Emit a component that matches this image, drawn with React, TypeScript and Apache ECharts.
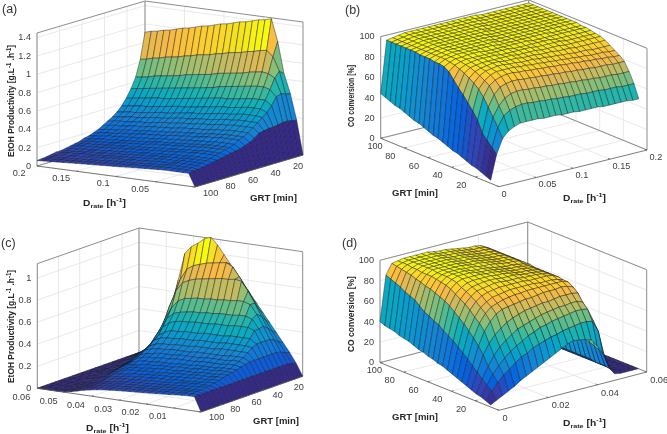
import React, { useEffect, useRef } from "react";
import * as echarts from "echarts";

// ---------- data ----------
const dFractions = [0,.04,.08,.12,.16,.2,.24,.28,.32,.36,.4,.44,.48,.52,.56,.6,.64,.68,.72,.76,.8,.84,.88,.92,.96,1];
const grtRowsAC = [4,8.2,12.3,16.5,20.7,24.9,29,33.2,37.4,41.6,45.7,49.9,54.1,58.3,62.4,66.6,70.8,75,79.1,83.3,87.5,91.7,95.8,100];
const grtRowsBD = [7,11,15.1,19.1,23.2,27.2,31.3,35.3,39.3,43.4,47.4,51.5,55.5,59.5,63.6,67.6,71.7,75.7,79.7,83.8,87.8,91.9,95.9,100];

// productivity x 100, rows = GRT, columns = Drate
const surfaceA = [
[0,37,65,86,120,144,142,141,139,137,136,134,132,131,129,127,126,124,122,121,119,117,116,114,113,111],
[0,38,66,90,105,111,110,108,107,105,104,103,101,100,98,97,96,94,93,91,90,89,87,86,84,83],
[0,39,68,84,88,89,88,87,85,84,83,82,81,79,78,77,76,75,73,72,71,70,69,67,66,65],
[0,39,66,73,75,75,74,73,72,71,70,69,67,66,65,64,63,62,61,60,59,58,57,56,55,54],
[0,38,58,63,63,63,62,61,60,59,59,58,57,56,55,54,53,52,51,50,50,49,48,47,46,45],
[0,37,52,55,55,55,54,53,52,52,51,50,49,48,47,46,46,45,44,43,42,41,41,40,39,38],
[0,37,48,49,49,49,48,47,47,46,45,44,43,43,42,41,40,39,39,38,37,36,35,35,34,33],
[0,36,44,44,44,44,43,43,42,41,40,40,39,38,38,37,36,35,35,34,33,32,32,31,30,29],
[0,35,40,40,40,40,39,39,38,37,37,36,35,35,34,33,33,32,31,30,30,29,28,28,27,26],
[0,31,36,36,36,36,35,35,34,33,33,32,32,31,30,30,29,29,28,27,27,26,25,25,24,23],
[0,28,33,33,33,33,32,32,31,30,30,29,29,28,27,27,26,26,25,24,24,23,22,22,21,20],
[0,26,31,31,31,31,30,30,29,28,28,27,27,26,25,25,24,24,23,22,22,21,20,20,19,18],
[0,24,28,28,28,28,27,27,26,26,25,25,24,24,23,22,22,21,21,20,20,19,19,18,17,16],
[0,23,26,26,26,26,25,25,24,24,23,23,22,22,21,20,20,19,19,18,18,17,17,16,15,15],
[0,22,25,25,25,25,24,24,23,23,22,22,21,21,20,19,19,18,18,17,16,16,15,15,14,13],
[0,21,23,23,23,23,22,22,21,21,20,20,19,19,18,18,17,17,16,16,15,15,14,14,13,12],
[0,20,22,22,22,22,21,21,20,20,19,19,18,18,17,17,16,16,15,15,14,14,13,13,12,11],
[0,19,20,20,20,20,19,19,19,18,18,17,17,16,16,15,15,14,14,13,13,12,12,11,11,10],
[0,18,19,19,19,19,18,18,18,17,17,16,16,15,15,14,14,13,13,12,12,11,11,10,10,9],
[0,17,18,18,18,18,17,17,17,16,16,15,15,14,14,13,13,12,12,11,11,11,10,10,9,9],
[0,16,17,17,17,17,16,16,16,15,15,14,14,13,13,13,12,12,11,11,10,10,9,9,8,8],
[0,15,16,16,16,16,15.5,15,14.5,14,13.5,13,12.7,12.3,12,11.5,11,10.5,10,9.5,9,8.7,8.3,8,7.5,7],
[0,15,15,15,15,15,14.6,14.2,13.8,13.4,13,12.5,12,11.6,11.2,10.8,10.4,10,9.5,9,8.6,8.2,7.8,7.4,7,6.5],
[0,14,14,14,14,14,13.6,13.2,12.8,12.4,12,11.6,11.2,10.8,10.4,10,9.6,9.2,8.8,8.4,8,7.6,7.2,6.8,6.4,6],
];

// CO conversion %, rows = GRT, columns = Drate
const surfaceB = [
[3,27,41,47,50,52,52,52,52,51,51,51,50,50,50,49,49,49,49,48,48,48,48,48,47,47],
[5,32,50,60,64,66,67,67,66,66,65,65,64,64,63,63,63,62,62,62,61,61,61,60,60,60],
[7,37,58,68,74,77,78,78,77,77,76,76,75,75,74,74,73,73,72,72,71,71,71,70,70,70],
[9,42,66,77,83,85,86,86,85,85,84,84,83,83,82,82,81,81,80,80,79,79,79,78,78,78],
[10,53,74,84,88,90,91,91,90,90,89,89,88,88,87,87,86,86,85,85,84,84,83,83,82,82],
[12,60,80,87,91,93,93,93,93,92,92,91,91,90,90,89,89,88,88,87,87,86,86,86,85,85],
[14,66,84,90,93,94,95,95,94,94,93,93,93,92,92,91,91,90,90,89,89,89,88,88,88,88],
[16,72,87,92,94,95,96,96,95,95,95,94,94,94,93,93,93,92,92,92,91,91,91,91,91,91],
[17,77,90,94,95,96,96,96,96,96,96,95,95,95,95,94,94,94,94,93,93,93,93,93,93,93],
[19,83,92,95,96,97,97,97,97,96,96,96,96,96,96,95,95,95,95,95,94,94,94,94,94,94],
[21,89,94,96,97,97,97,97,97,97,97,97,96,96,96,96,96,96,96,95,95,95,95,95,95,95],
[23,92,95,97,97,98,98,98,97,97,97,97,97,97,97,97,96,96,96,96,96,96,96,96,96,96],
[24,93,96,97,98,98,98,98,98,98,98,97,97,97,97,97,97,97,97,97,96,96,96,96,96,96],
[26,93,96,97,98,98,98,98,98,98,98,98,97,97,97,97,97,97,97,97,97,97,97,97,97,97],
[28,94,96,97,98,98,98,98,98,98,98,98,97,97,97,97,97,97,97,97,97,97,97,97,97,97],
[30,94,96,97,98,98,98,98,98,98,98,98,98,97,97,97,97,97,97,97,97,97,97,97,97,97],
[31,94,96,97,98,98,98,98,98,98,98,98,98,97,97,97,97,97,97,97,97,97,97,97,97,97],
[33,95,96,97,98,98,98,98,98,98,98,98,98,98,97,97,97,97,97,97,97,97,97,97,97,97],
[35,95,96,97,98,98,98,98,98,98,98,98,98,98,97,97,97,97,97,97,97,97,97,97,97,97],
[37,95,96,97,98,98,98,98,98,98,98,98,98,98,98,97,97,97,97,97,97,97,97,97,97,97],
[38,95,96,97,98,98,98,98,98,98,98,98,98,98,98,97,97,97,97,97,97,97,97,97,97,97],
[40,95,96,97,98,98,98,98,98,98,98,98,98,98,98,98,97,97,97,97,97,97,97,97,97,97],
[42,95,96,97,98,98,98,98,98,98,98,98,98,98,98,98,97,97,97,97,97,97,97,97,97,97],
[44,95,96,97,98,98,98,98,98,98,98,98,98,98,98,98,98,97,97,97,97,97,97,97,97,97],
];

const surfaceC = [
[0,11,20,28,36,44,52,60,68,76,84,92,100,108,114,112,107,103,96,71,43,27,15,10,4,0],
[0,12,21,30,39,48,57,66,75,84,92,95,94,93,92,90,88,84,74,57,36,21,11,7,3,0],
[0,13,23,33,43,53,64,74,82,83,82,82,81,80,79,78,76,73,65,50,32,18,10,6,2,0],
[0,13,24,35,46,56,64,66,66,65,65,64,64,63,63,62,61,58,51,40,25,15,8,5,2,0],
[0,13,24,35,45,53,55,55,54,54,54,53,53,52,52,51,50,48,43,33,21,12,7,4,2,0],
[0,13,24,35,45,47,47,47,46,46,46,45,45,45,44,44,43,41,36,28,18,10,6,3,1,0],
[0,13,24,35,39,39,39,39,38,38,38,38,37,37,37,36,36,34,30,23,15,9,5,3,1,0],
[0,13,24,33,34,34,34,34,33,33,33,33,32,32,32,31,31,30,27,20,13,7,4,2,1,0],
[0,13,24,30,30,30,30,30,29,29,29,29,28,28,28,27,27,26,23,18,11,6,3,2,1,0],
[0,13,24,27,27,27,26,26,26,26,26,25,25,25,25,24,24,23,21,16,10,6,3,2,0,0],
[0,13,23,25,25,24,24,24,24,23,23,23,23,22,22,22,21,20,18,14,9,5,3,1,0,0],
[0,13,22,23,23,22,22,22,22,21,21,21,21,20,20,19,19,18,16,12,8,4,2,1,0,0],
[0,13,21,21,21,20,20,20,20,19,19,19,18,18,18,17,17,16,14,11,7,4,2,1,0,0],
[0,13,20,20,20,19,19,19,18,18,18,17,17,17,16,16,15,14,13,10,6,3,2,0,0,0],
[0,13,19,19,18,18,18,17,17,17,16,16,16,15,15,14,14,13,11,9,5,3,1,0,0,0],
[0,13,18,18,17,17,17,16,16,16,15,15,14,14,14,13,13,12,10,8,4,2,1,0,0,0],
[0,13,17,17,16,16,16,15,15,14,14,14,13,13,12,12,11,10,9,6,4,2,1,0,0,0],
[0,13,16,16,15,15,14,14,14,13,13,13,12,12,11,11,10,9,8,5,3,1,0,0,0,0],
[0,13,15,15,15,14,14,13,13,12,12,12,11,11,10,10,9,8,7,4,2,1,0,0,0,0],
[0,13,15,14.5,14,13.5,13,12.5,12,11.6,11.2,10.8,10.4,10,9.5,9,8,7,6,4,2,1,0,0,0,0],
[0,13,14,13.6,13.2,12.8,12.4,12,11.5,11,10.6,10.2,9.8,9.4,9,8.4,7.6,6.6,5.4,3.4,1.8,.6,0,0,0,0],
[0,13,14,13.4,13,12.5,12,11.5,11,10.6,10.2,9.8,9.4,9,8.5,7.9,7.2,6.2,5,3.2,1.6,.4,0,0,0,0],
[0,13,13.5,13,12.5,12,11.6,11.1,10.7,10.3,9.9,9.5,9.1,8.7,8.2,7.6,6.8,5.8,4.6,3,1.4,.3,0,0,0,0],
[0,13,13,12.6,12.1,11.6,11.2,10.7,10.3,9.9,9.5,9.1,8.7,8.3,7.8,7.2,6.4,5.4,4.2,2.6,1.2,.2,0,0,0,0],
];

const surfaceD = [
[2,5,8,11,14,18,21,24,27,30,33,36,39,42,44,43,42,40,33,24,9,1,0,0,0,0],
[4,12,19,25,29,34,38,40,44,46,48,50,51,53,54,55,56,56,55,44,19,4,1,0,0,0],
[6,16,25,32,38,43,47,50,54,56,59,60,62,63,64,65,66,66,65,52,22,5,1,0,0,0],
[7,20,31,40,47,52,56,60,62,64,66,68,69,70,71,71,72,72,70,56,24,5,1,0,0,0],
[9,25,40,50,57,62,66,69,71,73,74,75,76,76,77,78,78,78,77,61,26,5,1,0,0,0],
[11,29,47,60,68,74,77,78,79,80,81,81,82,83,83,83,84,83,81,64,27,6,1,0,0,0],
[13,34,53,66,74,79,81,83,84,85,85,86,86,86,86,86,86,86,84,66,28,6,1,0,0,0],
[15,38,58,70,78,82,85,86,87,88,88,88,88,88,87,87,87,86,84,67,29,6,1,0,0,0],
[17,42,63,75,82,86,88,89,90,90,90,90,90,89,89,89,89,88,85,68,29,6,1,0,0,0],
[19,46,67,79,85,89,90,91,92,92,91,91,91,90,90,90,89,88,85,68,29,6,1,0,0,0],
[21,49,71,82,88,91,92,93,93,93,92,92,92,91,90,90,89,88,85,68,29,6,1,0,0,0],
[22,52,75,85,90,93,94,94,94,94,93,93,92,91,90,90,89,88,85,68,29,6,1,0,0,0],
[24,56,78,88,93,95,95,95,95,94,94,93,92,91,90,90,89,88,85,68,29,6,1,0,0,0],
[25,58,80,90,94,96,96,96,95,94,94,93,92,91,90,90,89,88,85,68,29,6,1,0,0,0],
[27,61,82,91,95,96,96,96,95,94,94,93,92,91,90,90,89,88,86,68,29,6,1,0,0,0],
[28,63,84,92,95,96,96,96,95,95,94,93,93,92,91,90,90,89,86,68,29,6,1,0,0,0],
[30,67,85,93,95,96,96,96,96,95,94,94,93,92,91,90,90,89,86,69,29,6,1,0,0,0],
[32,71,87,93,96,96,96,96,96,95,94,94,93,92,91,90,90,89,86,69,29,6,1,0,0,0],
[33,73,88,93,96,96,96,96,96,95,94,94,93,92,91,90,90,89,86,69,29,6,1,0,0,0],
[34,75,90,94,96,96,96,96,96,95,94,94,93,92,91,90,90,89,86,69,29,6,1,0,0,0],
[36,78,91,94,96,96,96,96,96,95,94,94,93,92,91,90,90,89,86,69,29,6,1,0,0,0],
[37,80,92,95,96,96,96,96,96,95,94,94,93,92,91,90,90,89,86,69,29,6,1,0,0,0],
[38,82,93,95,96,96,96,96,96,95,94,94,93,92,91,90,90,89,86,69,29,6,1,0,0,0],
[40,84,94,95,96,96,96,96,96,95,94,94,93,92,91,90,90,89,86,69,29,6,1,0,0,0],
];

const etohTicks = [0,0.2,0.4,0.6,0.8,1,1.2,1.4];
const etohTicksC = [0,0.2,0.4,0.6,0.8,1];
const coTicks = [0,20,40,60,80,100];
const grtTicks = [20,40,60,80,100];
const dTicksA = [0.05,0.1,0.15,0.2];
const dTicksB = [0,0.05,0.1,0.15,0.2];
const dTicksC = [0.01,0.02,0.03,0.04,0.05,0.06];
const dTicksD = [0,0.02,0.04,0.06];

const parula = [[53,42,135],[50,67,186],[3,99,225],[13,117,220],[20,133,212],[9,152,209],[6,167,198],[21,177,180],[56,185,158],[101,190,134],[146,191,115],[183,189,100],[217,186,86],[248,186,68],[252,206,46],[245,228,29],[249,251,14]];
const parulaStops = [0,4,8,12,16,20,24,28,32,36,40,44,48,52,56,60,63];

function colour(t: number) {
  const p = Math.max(0, Math.min(1, t)) * 63;
  let k = 0;
  while (k < parulaStops.length - 2 && p > parulaStops[k + 1]) k++;
  const f = (p - parulaStops[k]) / (parulaStops[k + 1] - parulaStops[k]);
  const c = parula[k].map((v, n) => Math.round(v + (parula[k + 1][n] - v) * f));
  return `rgb(${c[0]},${c[1]},${c[2]})`;
}

// ---------- view of each panel (pixels of the page) ----------
const views: any[] = [
  { table: surfaceA, scale: 0.01, grt: grtRowsAC, dMax: 0.2, zTop: 1.45, gFront: 100, gSide: 4, gBack: 4,
    o: [195,187], uD: [-158,-21], uG: [108,-32], h: 133, leftD: true,
    zTicks: etohTicks, dTicks: dTicksA,
    dLab: { align: "right", dx: -6.5, dy: 7, nudge: { 0.2: -5 } }, gLab: { align: "left", dx: 8, dy: 6, nudge: {} } },
  { table: surfaceB, scale: 1, grt: grtRowsBD, dMax: 0.2, zTop: 100, gFront: 0, gSide: 100, gBack: 100,
    o: [499,186.7], uD: [148,-36.7], uG: [-118.3,-48.4], h: 101.7, leftD: false,
    zTicks: coTicks, dTicks: dTicksB,
    dLab: { align: "left", dx: 2.5, dy: 7, nudge: {} }, gLab: { align: "right", dx: -9, dy: 8, nudge: { 100: 11 } } },
  { table: surfaceC, scale: 0.01, grt: grtRowsAC, dMax: 0.06, zTop: 1.13, gFront: 100, gSide: 4, gBack: 4,
    o: [201,412], uD: [-163.7,-23.7], uG: [101.7,-35.7], h: 124.6, leftD: true,
    zTicks: etohTicksC, dTicks: dTicksC,
    dLab: { align: "right", dx: -7, dy: 8.5, nudge: {} }, gLab: { align: "left", dx: 8, dy: 5, nudge: {} } },
  { table: surfaceD, scale: 1, grt: grtRowsBD, dMax: 0.06, zTop: 100, gFront: 0, gSide: 100, gBack: 100,
    o: [499,410.3], uD: [147.7,-38.3], uG: [-119,-47.7], h: 102.3, leftD: false,
    zTicks: coTicks, dTicks: dTicksD,
    dLab: { align: "left", dx: 3.5, dy: 8, nudge: {} }, gLab: { align: "right", dx: -9, dy: 8, nudge: { 100: 11 } } },
];

function place(v: any, D: number, G: number, z: number) {
  const t = D / v.dMax;
  const s = (G - v.gFront) / (v.gSide - v.gFront);
  return [
    v.o[0] + t * v.uD[0] + s * v.uG[0],
    v.o[1] + t * v.uD[1] + s * v.uG[1] - (z / v.zTop) * v.h,
  ];
}

const GRID = "#e3e3e3";
const BOX = "#8c8c8c";
const AXIS = "#5a5a5a";

function segments(v: any) {
  const segs: any[] = [];
  const { dMax, zTop, gFront, gBack } = v;
  const add = (a: number[], b: number[], color: string, width = 0.8) => segs.push({ a, b, color, width });
  v.zTicks.forEach((z: number) => {
    add([dMax, gFront, z], [dMax, gBack, z], GRID);
    add([dMax, gBack, z], [0, gBack, z], GRID);
  });
  v.dTicks.forEach((d: number) => {
    add([d, gFront, 0], [d, gBack, 0], GRID);
    add([d, gBack, 0], [d, gBack, zTop], GRID);
  });
  grtTicks.forEach((g) => {
    add([0, g, 0], [dMax, g, 0], GRID);
    add([dMax, g, 0], [dMax, g, zTop], GRID);
  });
  add([dMax, gFront, zTop], [dMax, gBack, zTop], BOX, 1);
  add([dMax, gBack, zTop], [0, gBack, zTop], BOX, 1);
  add([dMax, gFront, 0], [dMax, gBack, 0], BOX, 1);
  add([dMax, gBack, 0], [0, gBack, 0], BOX, 1);
  add([dMax, gFront, 0], [dMax, gFront, zTop], BOX, 1);
  add([dMax, gBack, 0], [dMax, gBack, zTop], BOX, 1);
  add([0, gBack, 0], [0, gBack, zTop], BOX, 1);
  return segs;
}

function frontSegments(v: any) {
  const segs: any[] = [];
  const { dMax, gFront, gBack } = v;
  const add = (a: number[], b: number[]) => segs.push({ a, b, color: AXIS, width: 0.8 });
  add([0, gFront, 0], [dMax, gFront, 0]);
  add([0, gFront, 0], [0, gBack, 0]);
  const gStep = (gBack - gFront) * 0.015;
  v.dTicks.forEach((d: number) => add([d, gFront, 0], [d, gFront + gStep, 0]));
  grtTicks.forEach((g) => add([0, g, 0], [dMax * 0.015, g, 0]));
  return segs;
}

function textLabels(v: any) {
  const out: any[] = [];
  const corner = v.leftD ? [v.dMax, v.gFront] : [0, v.gBack];
  v.zTicks.forEach((z: number) => out.push({ at: [corner[0], corner[1], z], text: String(z), align: "right", dx: -6, dy: 0 }));
  v.dTicks.forEach((d: number) =>
    out.push({ at: [d, v.gFront, 0], text: String(d), align: v.dLab.align, dx: v.dLab.dx + (v.dLab.nudge[d] || 0), dy: v.dLab.dy }));
  grtTicks.forEach((g) =>
    out.push({ at: [0, g, 0], text: String(g), align: v.gLab.align, dx: v.gLab.dx + (v.gLab.nudge[g] || 0), dy: v.gLab.dy }));
  return out;
}

function buildSeries(v: any) {
  const series: any[] = [];
  const lineSeries = (segs: any[]) => ({
    type: "custom", silent: true, clip: false, coordinateSystem: "cartesian2d",
    data: segs.map((_, k) => [k, 0]),
    renderItem: (_: any, api: any) => {
      const s = segs[api.value(0)];
      const p = api.coord(place(v, s.a[0], s.a[1], s.a[2]));
      const q = api.coord(place(v, s.b[0], s.b[1], s.b[2]));
      return { type: "line", shape: { x1: p[0], y1: p[1], x2: q[0], y2: q[1] }, style: { stroke: s.color, lineWidth: s.width } };
    },
  });
  series.push(lineSeries(segments(v)));

  const rows = v.table.length, cols = dFractions.length;
  const cells: number[][] = [];
  const flat = v.table.flat();
  const lo = Math.min(...flat), hi = Math.max(...flat);
  for (let j = cols - 2; j >= 0; j--) {
    if (v.gBack < v.gFront) for (let i = 0; i < rows - 1; i++) cells.push([i, j]);
    else for (let i = rows - 2; i >= 0; i--) cells.push([i, j]);
  }
  series.push({
    type: "custom", silent: true, clip: false, coordinateSystem: "cartesian2d",
    data: cells,
    renderItem: (_: any, api: any) => {
      const i = api.value(0), j = api.value(1);
      const node = (r: number, c: number) =>
        api.coord(place(v, dFractions[c] * v.dMax, v.grt[r], v.table[r][c] * v.scale));
      return {
        type: "polygon",
        shape: { points: [node(i, j), node(i, j + 1), node(i + 1, j + 1), node(i + 1, j)] },
        style: { fill: colour((v.table[i][j] - lo) / (hi - lo)), stroke: "rgba(25,25,35,0.8)", lineWidth: 0.55 },
      };
    },
  });
  series.push(lineSeries(frontSegments(v)));

  const labels = textLabels(v);
  series.push({
    type: "custom", silent: true, clip: false, coordinateSystem: "cartesian2d",
    data: labels.map((_, k) => [k, 0]),
    renderItem: (_: any, api: any) => {
      const l = labels[api.value(0)];
      const p = api.coord(place(v, l.at[0], l.at[1], l.at[2]));
      return {
        type: "text", x: p[0] + l.dx, y: p[1] + l.dy, scaleX: 1.08,
        style: { text: l.text, fill: "#404040", font: '8.5px "Liberation Sans"', align: l.align, verticalAlign: "middle" },
      };
    },
  });
  return series;
}

// ---------- titles ----------
const BOLD = 'bold 8.5px "Liberation Sans"';
const SMALL = 'bold 6px "Liberation Sans"';
const dTitle = [["D", BOLD, 0], ["rate", SMALL, 3], [" [h", BOLD, 0], ["-1", SMALL, -3], ["]", BOLD, 0]];
const grtTitle = [["GRT [min]", BOLD, 0]];
const etohTitle = [["EtOH Productivity [g.L", BOLD, 0], ["-1", SMALL, -3], [" .h", BOLD, 0], ["-1", SMALL, -3], ["]", BOLD, 0]];
const coTitle = [["CO conversion [%]", BOLD, 0]];
const titles: any[] = [
  { parts: dTitle, x: 83, y: 203, len: 43 }, { parts: grtTitle, x: 250, y: 198, len: 47 },
  { parts: etohTitle, x: 11, y: 157, len: 112, up: true },
  { parts: grtTitle, x: 392, y: 193, len: 46 }, { parts: dTitle, x: 563, y: 198, len: 43 },
  { parts: coTitle, x: 351, y: 127, len: 62, up: true },
  { parts: dTitle, x: 86, y: 428, len: 43 }, { parts: grtTitle, x: 253, y: 421, len: 46 },
  { parts: etohTitle, x: 11, y: 383, len: 113, up: true },
  { parts: grtTitle, x: 392, y: 417, len: 46 }, { parts: dTitle, x: 563, y: 423, len: 43 },
  { parts: coTitle, x: 351, y: 352, len: 76, up: true },
];
const panelTags = [["(a)", 2, 9], ["(b)", 345, 10], ["(c)", 1, 243], ["(d)", 342, 243]];

function titleGraphics() {
  const ctx = document.createElement("canvas").getContext("2d")!;
  const out: any[] = [];
  titles.forEach((t) => {
    let natural = 0;
    t.parts.forEach((p: any) => { ctx.font = p[1]; natural += ctx.measureText(p[0]).width; });
    const k = t.len / natural;
    let run = 0;
    t.parts.forEach((p: any) => {
      ctx.font = p[1];
      const w = ctx.measureText(p[0]).width * k;
      out.push({
        type: "text", silent: true, scaleX: k, scaleY: t.up ? 1.15 : 1,
        x: t.up ? t.x + p[2] : t.x + run,
        y: t.up ? t.y - run : t.y + p[2],
        rotation: t.up ? Math.PI / 2 : 0,
        style: { text: p[0], font: p[1], fill: "#262626", align: "left", verticalAlign: "middle" },
      });
      run += w;
    });
  });
  panelTags.forEach((t: any) =>
    out.push({ type: "text", silent: true, x: t[1], y: t[2], style: { text: t[0], font: '12.5px "Liberation Sans"', fill: "#333", align: "left", verticalAlign: "middle" } }));
  return out;
}

export default function App() {
  const ref = useRef<HTMLDivElement>(null);
  useEffect(() => {
    const chart = echarts.init(ref.current!, null, { renderer: "svg" });
    chart.setOption({
      animation: false,
      backgroundColor: "#fff",
      grid: { left: 0, right: 0, top: 0, bottom: 0 },
      xAxis: { type: "value", min: 0, max: 667, show: false },
      yAxis: { type: "value", min: 0, max: 434, inverse: true, show: false },
      series: views.flatMap(buildSeries),
      graphic: titleGraphics(),
    });
    return () => chart.dispose();
  }, []);
  return <div ref={ref} style={{ position: "fixed", left: 0, top: 0, width: 667, height: 434, filter: "blur(0.35px)" }} />;
}
